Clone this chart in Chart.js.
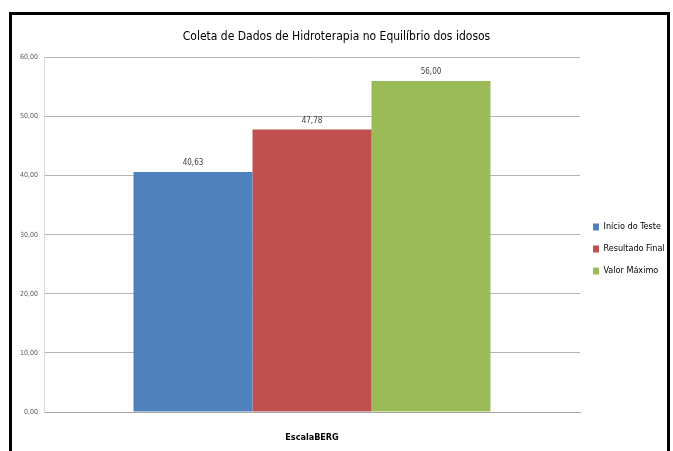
<!DOCTYPE html>
<html>
<head>
<meta charset="utf-8">
<script src="https://cdn.jsdelivr.net/npm/chart.js@4"></script>
<style>
  html, body { margin: 0; padding: 0; background: #fff; }
  #wrap { position: relative; width: 673px; height: 451px; }
  #frame {
    position: absolute; left: 9px; top: 12px; width: 655px; height: 445px;
    border: 3px solid #000; border-bottom: none; pointer-events: none;
  }
  canvas { position: absolute; left: 0; top: 0; }
</style>
</head>
<body>
<div id="wrap">
  <canvas id="grafico" width="673" height="451"></canvas>
  <div id="frame"></div>
</div>
<script>
// dados
const categorias = ['EscalaBERG'];
const series = ['Início do Teste', 'Resultado Final', 'Valor Máximo'];
const valores = [40.63, 47.78, 56.00];
const cores = ['#4f81bd', '#c0504d', '#9bbb59'];
const eixoY = { min: 0, max: 60, passo: 10 };

const fonte = "'Liberation Sans Narrow', 'DejaVu Sans Condensed', sans-serif";

function fmt(v) {
    return v.toFixed(2).replace('.', ',');
}

// rótulos acima das barras
const rotulosBarras = {
    id: 'rotulosBarras',
    afterDatasetsDraw(chart) {
        const ctx = chart.ctx;
        ctx.save();
        ctx.font = '8px ' + fonte;
        ctx.fillStyle = '#404040';
        ctx.textAlign = 'center';
        ctx.textBaseline = 'bottom';
        chart.data.datasets.forEach((ds, i) => {
            const meta = chart.getDatasetMeta(i);
            meta.data.forEach((bar, j) => {
                ctx.fillText(fmt(ds.data[j]), bar.x, bar.y - 5);
            });
        });
        ctx.restore();
    }
};

// largura fixa da legenda (à direita)
const larguraLegenda = {
    id: 'larguraLegenda',
    afterInit(chart) {
        const lg = chart.legend;
        if (!lg) return;
        const fitOrig = lg.fit;
        lg.fit = function () {
            fitOrig.call(this);
            this.width = 93;
        };
    }
};

const datasets = series.map((nome, i) => ({
    label: nome,
    data: [valores[i]],
    backgroundColor: cores[i],
    borderWidth: 0,
    barPercentage: 1,
    categoryPercentage: 0.666
}));

new Chart(document.getElementById('grafico'), {
    type: 'bar',
    data: { labels: categorias, datasets: datasets },
    plugins: [rotulosBarras, larguraLegenda],
    options: {
        responsive: false,
        animation: false,
        layout: { padding: { top: 20, left: 0, right: 0, bottom: 7 } },
        plugins: {
            title: {
                display: true,
                text: 'Coleta de Dados de Hidroterapia no Equilíbrio dos idosos',
                color: '#000',
                font: { family: fonte, size: 12, weight: 'normal' },
                padding: { top: 10, bottom: 13 }
            },
            legend: {
                position: 'right',
                title: {
                    display: true,
                    text: ' ',
                    font: { size: 10 },
                    padding: { top: 22, bottom: 0 }
                },
                labels: {
                    boxWidth: 6,
                    boxHeight: 7,
                    color: '#000',
                    padding: 13,
                    font: { family: fonte, size: 9 }
                }
            },
            tooltip: { enabled: false }
        },
        scales: {
            x: {
                afterFit: (scale) => { scale.height = 32; },
                grid: { display: false, drawTicks: false },
                border: { color: '#a6a6a6', width: 1 },
                ticks: {
                    color: '#000',
                    padding: 20,
                    font: { family: fonte, size: 9, weight: 'bold' }
                }
            },
            y: {
                min: eixoY.min,
                max: eixoY.max,
                afterFit: (scale) => { scale.width = 44; },
                grid: { color: '#b4b4b4', drawTicks: false },
                border: { color: '#d9d9d9' },
                ticks: {
                    stepSize: eixoY.passo,
                    padding: 6,
                    color: '#595959',
                    font: { family: fonte, size: 7 },
                    callback: (v) => fmt(v)
                }
            }
        }
    }
});
</script>
</body>
</html>
